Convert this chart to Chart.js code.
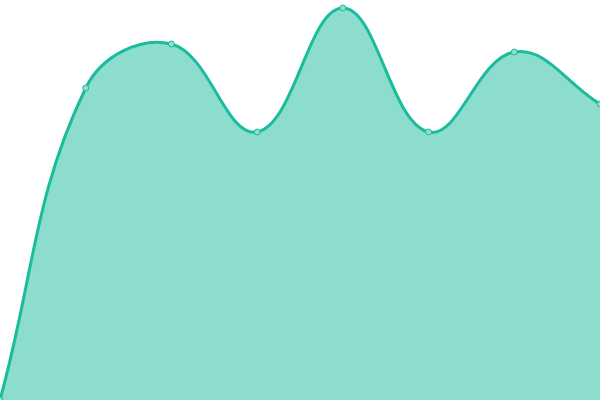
<!DOCTYPE html>
<html>
<head>
<meta charset="utf-8">
<script src="https://cdn.jsdelivr.net/npm/chart.js@4"></script>
<style>
html,body{margin:0;padding:0;background:#fff;}
#wrap{width:600px;height:400px;position:relative;}
</style>
</head>
<body>
<div id="wrap"><canvas id="c"></canvas></div>
<script>
const labels = ["1", "2", "3", "4", "5", "6", "7", "8"];
const values = [0, 78, 89, 67, 98, 67, 87, 74];

new Chart(document.getElementById('c'), {
  type: 'line',
  data: {
    labels: labels,
    datasets: [{
      data: values,
      fill: true,
      backgroundColor: 'rgba(26,188,156,0.5)',
      borderColor: '#1abc9c',
      borderWidth: 3,
      tension: 0.4,
      pointRadius: 3,
      pointBackgroundColor: '#8ddfcf',
      pointBorderColor: '#1abc9c',
      pointBorderWidth: 1
    }]
  },
  options: {
    responsive: true,
    maintainAspectRatio: false,
    animation: false,
    layout: { padding: 0, autoPadding: false },
    plugins: { legend: { display: false }, tooltip: { enabled: false } },
    scales: {
      x: { display: false },
      y: { display: false, min: 0, max: 100 }
    }
  }
});
</script>
</body>
</html>
